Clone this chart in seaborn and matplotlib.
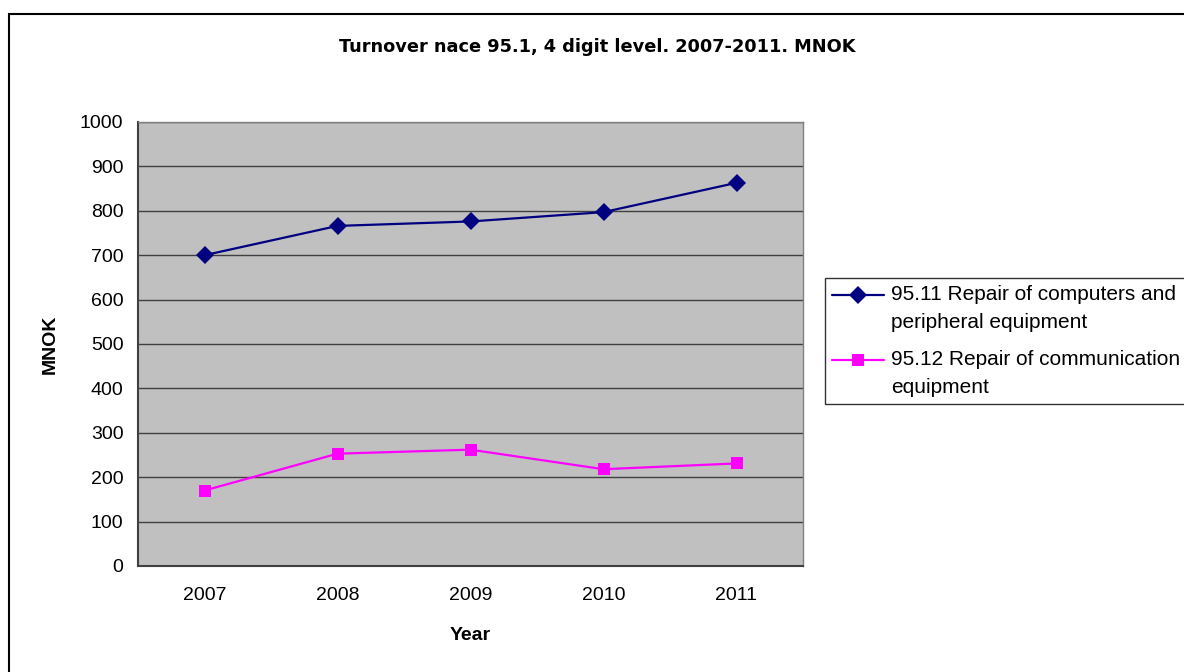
import matplotlib
matplotlib.use("Agg")
import matplotlib.pyplot as plt
from matplotlib.patches import Rectangle
from matplotlib.lines import Line2D
from matplotlib.legend_handler import HandlerLine2D
import numpy as np
import seaborn as sns
import pandas as pd

years = ["2007", "2008", "2009", "2010", "2011"]
computers = [700, 766, 776, 797, 863]
communication = [170, 253, 262, 218, 231]
series_names = [
    "95.11 Repair of computers and\nperipheral equipment",
    "95.12 Repair of communication\nequipment",
]
y_ticks = list(range(0, 1001, 100))

df = pd.DataFrame({
    "Year": years * 2,
    "MNOK": computers + communication,
    "Series": [series_names[0]] * len(years) + [series_names[1]] * len(years),
})

sns.set_style("white")
plt.rcParams["font.family"] = ["Liberation Sans", "DejaVu Sans"]
plt.rcParams["text.color"] = "black"
plt.rcParams["axes.labelcolor"] = "black"
plt.rcParams["xtick.color"] = "black"
plt.rcParams["ytick.color"] = "black"

fig = plt.figure(figsize=(11.84, 6.72), dpi=100)
ax = fig.add_axes([138 / 1184, 1 - 566 / 672, 665 / 1184, 444 / 672])
ax.set_facecolor("#C0C0C0")

colors = {series_names[0]: "#000080", series_names[1]: "#FF00FF"}
markers = {series_names[0]: "D", series_names[1]: "s"}
msize = {series_names[0]: 9, series_names[1]: 8}

for name in series_names:
    sub = df[df["Series"] == name]
    sns.lineplot(data=sub, x="Year", y="MNOK", color=colors[name],
                 marker=markers[name], markersize=msize[name],
                 linewidth=1.6, markeredgewidth=0, legend=False, ax=ax,
                 zorder=3)

ax.set_xlim(-0.5, len(years) - 0.5)
ax.set_ylim(0, 1000)
ax.set_yticks(y_ticks)
ax.set_yticklabels([str(v) for v in y_ticks], fontsize=14)
ax.set_xticks(range(len(years)))
ax.set_xticklabels(years, fontsize=14)
ax.set_xticks([i - 0.5 for i in range(len(years) + 1)], minor=True)
ax.tick_params(axis="x", which="major", length=0, pad=15)
ax.tick_params(axis="x", which="minor", length=5, width=1, color="#404040", direction="out")
ax.tick_params(axis="y", which="major", length=4.5, width=1, color="#404040", direction="out", pad=6)
ax.yaxis.grid(True, color="#404040", linewidth=1)
ax.set_axisbelow(True)
for s in ["left", "bottom"]:
    ax.spines[s].set_color("#404040")
    ax.spines[s].set_linewidth(1.5)
for s in ["top", "right"]:
    ax.spines[s].set_color("#808080")
    ax.spines[s].set_linewidth(1)

ax.set_xlabel("Year", fontsize=14, fontweight="bold")
ax.set_ylabel("MNOK", fontsize=14, fontweight="bold")
ax.xaxis.set_label_coords(0.5, (566 - 636) / 444)
ax.xaxis.label.set_va("center")
ax.yaxis.set_label_coords((50 - 138) / 665, 0.5)
ax.yaxis.label.set_va("center")

fig.text(597 / 1184, 1 - 47 / 672, "Turnover nace 95.1, 4 digit level. 2007-2011. MNOK",
         ha="center", va="center", fontsize=12.8, fontweight="bold",
         family=["DejaVu Sans"])

# outer chart border
fig.patches.append(Rectangle((9 / 1184, -0.05), 1.2, 1 - 14 / 672 + 0.05,
                             transform=fig.transFigure, fill=False,
                             edgecolor="black", linewidth=1.5))


class FirstLineHandler(HandlerLine2D):
    """Legend handle aligned with the first line of a wrapped label."""

    def create_artists(self, legend, orig_handle, xdescent, ydescent,
                       width, height, fontsize, trans):
        artists = super().create_artists(legend, orig_handle, xdescent,
                                         ydescent, width, height, fontsize,
                                         trans)
        for a in artists:
            a.set_ydata(np.asarray(a.get_ydata()) + 0.66 * fontsize)
        return artists


handles = [
    Line2D([], [], color=colors[n], marker=markers[n], markersize=msize[n],
           markeredgewidth=0, linewidth=1.6)
    for n in series_names
]
leg = fig.legend(handles, series_names, loc="upper left",
                 bbox_to_anchor=(825 / 1184, 1 - 278 / 672),
                 fontsize=15, frameon=True, fancybox=False,
                 edgecolor="black", borderpad=0.35, handlelength=2.5,
                 handletextpad=0.3, labelspacing=0.85, borderaxespad=0,
                 handler_map={Line2D: FirstLineHandler()})
leg.get_frame().set_linewidth(1)
for t in leg.get_texts():
    t.set_linespacing(1.6)

fig.savefig("out.png", dpi=100)
